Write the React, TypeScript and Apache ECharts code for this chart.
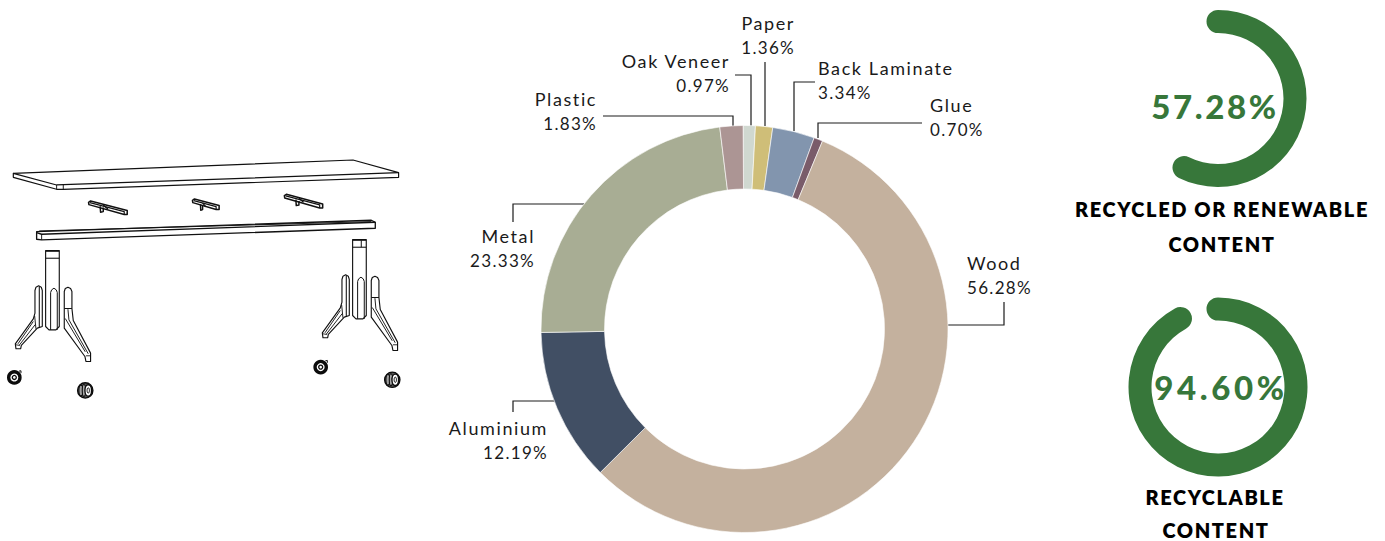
import React, { useEffect, useRef } from "react";
import * as echarts from "echarts";

const materials = ["Oak Veneer", "Paper", "Back Laminate", "Glue", "Wood", "Aluminium", "Metal", "Plastic"];
const shares = [0.97, 1.36, 3.34, 0.7, 56.28, 12.19, 23.33, 1.83];
const sliceColors = ["#d0d8d0", "#cfbe78", "#8295ae", "#7a5c6a", "#c4b19e", "#414f64", "#a8ad94", "#ac9594"];

const gaugeLabels = [57.28, 94.6];
// how far each ring is actually drawn in the picture, in percent of a full turn
const gaugeArcs = [57.28, 92];
const gaugeTitles = [["RECYCLED OR RENEWABLE", "CONTENT"], ["RECYCLABLE", "CONTENT"]];

// label anchor [x, y, align] and leader polyline, one entry per material
const labelSpots: any[] = [
  [730, 73, "right", [[735, 75], [751, 75], [751, 126]]],
  [795, 35, "right", [[765, 62], [765, 126]]],
  [818, 80, "left", [[815, 82], [794, 82], [794, 131]]],
  [930, 117, "left", [[922, 123], [818, 123], [818, 138]]],
  [967, 275, "left", [[1004, 302], [1004, 325], [948, 325]]],
  [548, 440, "right", [[513, 412], [513, 401], [558, 401]]],
  [535, 248, "right", [[513, 222], [513, 204], [584, 204]]],
  [597, 111, "right", [[603, 116], [733, 116], [733, 127]]],
];

const GREEN = "#37773a";
const LINE = "#1c1c1c";

// ---- illustration, drawn in a 3x coordinate space ----
const poly = (points: number[][], fill = "#fff", lineWidth = 3.6) => ({
  type: "polygon", shape: { points }, silent: true,
  style: { fill, stroke: "#111", lineWidth, lineJoin: "round" },
});
const line = (points: number[][], lineWidth = 3.2) => ({
  type: "polyline", shape: { points }, silent: true,
  style: { fill: "none", stroke: "#111", lineWidth, lineJoin: "round" },
});
const circ = (cx: number, cy: number, r: number, fill: string, lw = 4) => ({
  type: "circle", shape: { cx, cy, r }, silent: true,
  style: { fill, stroke: "#0c0c0c", lineWidth: lw },
});
const oval = (cx: number, cy: number, rx: number, ry: number, fill: string, lw = 3) => ({
  type: "ellipse", shape: { cx, cy, rx, ry }, silent: true,
  style: { fill, stroke: "#0c0c0c", lineWidth: lw },
});

const bracket = (x: number, y: number, w: number, h: number) => [
  poly([[x, y + 2], [x + 6, y - 2], [x + w, y + h - 3], [x + w, y + h + 9], [x + w - 9, y + h + 9], [x + 1, y + 9]], "#fff", 4.6),
  line([[x + 4, y + 3], [x + w - 9, y + h], [x + w - 9, y + h + 9]], 3.6),
  line([[x + w * 0.3, y + 14], [x + w * 0.31, y + 32], [x + w * 0.38, y + 30], [x + w * 0.38, y + 18]], 4.4),
  line([[x + w * 0.38, y + 10], [x + w * 0.5, y + 22]], 4),
];

const legParts = (cross: boolean) => [
  // column
  poly([[137, 302], [178, 302], [178, 530], [168, 540], [147, 540], [137, 530]], "#fff", 3.4),
  line([[137, 325], [178, 325]], 3.2),
  line([[137, 304], [178, 304]], 3.2),
  ...(cross ? [line([[163, 304], [163, 325]], 3)] : []),
  line([[152, 540], [152, 428], [155, 420], [162, 415], [169, 420], [172, 428], [172, 540]], 3),
  // left foot
  poly([[105, 422], [108, 412], [116, 408], [124, 412], [127, 422], [127, 530], [112, 535], [64, 587], [62, 597], [48, 597], [46, 582], [100, 507], [105, 490]], "#fff", 3.4),
  line([[118, 410], [118, 533]], 3.2),
  line([[104, 498], [108, 537]], 2.8),
  line([[100, 515], [54, 582]], 2.8),
  line([[106, 524], [58, 586]], 2.8),
  line([[48, 585], [60, 587]], 2.6),
  // right foot
  poly([[193, 425], [196, 416], [204, 412], [212, 416], [216, 425], [216, 476], [220, 512], [272, 610], [272, 635], [258, 635], [255, 620], [193, 535]], "#fff", 3.4),
  line([[193, 476], [216, 476]], 3),
  line([[204, 478], [207, 510], [265, 612]], 2.8),
  line([[196, 506], [256, 606]], 2.8),
  line([[258, 618], [272, 618]], 2.6),
];

const casterFlat = (x: number, y: number) => [
  circ(x, y, 17, "#fff", 10),
  circ(x, y, 6, "#fff", 4),
  line([[x + 14, y - 19], [x + 20, y - 20], [x + 20, y - 13]], 3),
];
const casterSide = (x: number, y: number) => [
  oval(x, y, 23, 23, "#555", 4),
  oval(x - 13, y, 6, 16, "#a0a0a0", 3.2),
  oval(x - 4, y, 5, 18, "#a8a8a8", 3.2),
  oval(x + 9, y, 10, 17, "#fff", 4.2),
  oval(x + 9, y, 3.5, 8, "#fff", 3),
];

const illustration = {
  type: "group", x: 0, y: 150, scaleX: 1 / 3, scaleY: 1 / 3, silent: true,
  children: [
    poly([[40, 70], [1060, 30], [1197, 68], [1197, 82], [190, 118], [170, 118], [40, 82]], "#fff", 3.6),
    line([[40, 70], [170, 105], [1197, 68]], 3.6),
    line([[170, 105], [170, 118]], 2.8),
    line([[190, 105], [190, 118]], 2.8),
    ...bracket(266, 155, 116, 30),
    ...bracket(578, 149, 80, 21),
    ...bracket(854, 135, 115, 30),
    poly([[110, 245], [1115, 211], [1127, 217], [1127, 235], [125, 270], [110, 268]], "#fff", 4),
    line([[110, 248], [125, 253], [1127, 217]], 4),
    line([[118, 243], [1115, 215]], 2.8),
    line([[125, 253], [125, 270]], 2.8),
    ...legParts(false),
    { type: "group", x: 921, y: -33, silent: true, children: legParts(true) },
    ...casterFlat(43, 683),
    ...casterSide(256, 722),
    ...casterFlat(963, 652),
    ...casterSide(1178, 690),
  ],
};

const titleText = (text: string, x: number, y: number) => ({
  type: "text", x, y, silent: true,
  style: { text, fill: "#000000", font: "800 20px Lato", align: "center", verticalAlign: "middle" },
});

const gaugeSeries = (arc: number, label: number, cy: number, radius: number, textDx: number, textDy: number, fill: string) => ({
  type: "gauge",
  center: [1218, cy],
  radius,
  startAngle: 90,
  endAngle: -270,
  min: 0,
  max: 100,
  pointer: { show: false },
  anchor: { show: false },
  axisLine: { show: false },
  axisTick: { show: false },
  splitLine: { show: false },
  axisLabel: { show: false },
  title: { show: false },
  progress: { show: true, width: 23, roundCap: true, itemStyle: { color: GREEN } },
  detail: {
    show: true,
    valueAnimation: false,
    offsetCenter: [textDx, textDy],
    formatter: () => `${label.toFixed(2)}%`,
    color: fill,
    fontFamily: "Lato",
    fontWeight: 900,
    fontSize: 33,
  },
  data: [{ value: arc }],
});

export default function App() {
  const ref = useRef<HTMLDivElement>(null);
  useEffect(() => {
    const chart = echarts.init(ref.current!, undefined, { renderer: "svg" });
    chart.setOption({
      animation: false,
      backgroundColor: "#ffffff",
      series: [
        {
          type: "pie",
          center: [744.5, 329],
          radius: [140, 203.5],
          startAngle: 90.4,
          clockwise: true,
          avoidLabelOverlap: false,
          data: materials.map((name, i) => ({ name, value: shares[i], itemStyle: { color: sliceColors[i] } })),
          itemStyle: { borderColor: "#ffffff", borderWidth: 0.6 },
          emphasis: { disabled: true },
          label: {
            show: true,
            position: "outside",
            formatter: (p: any) => `{n|${p.name}}\n{v|${p.value.toFixed(2)}%}`,
            fontFamily: "Lato",
            rich: {
              n: { fontFamily: "Lato", fontSize: 18, lineHeight: 24, color: "#1a1a1a" },
              v: { fontFamily: "Lato", fontSize: 17, lineHeight: 24, color: "#1a1a1b" },
            },
          },
          labelLine: { show: true, lineStyle: { color: LINE, width: 1.2 } },
          labelLayout: (p: any) => {
            const [x, y, align, points] = labelSpots[p.dataIndex];
            return { x, y, align, verticalAlign: "middle", labelLinePoints: points };
          },
        },
        gaugeSeries(gaugeArcs[0], gaugeLabels[0], 98.5, 88.5, -3, 7, GREEN),
        gaugeSeries(gaugeArcs[1], gaugeLabels[1], 387, 89.5, 3, 0, "#37773b"),
      ],
      graphic: [
        illustration,
        titleText(gaugeTitles[0][0], 1222, 209),
        titleText(gaugeTitles[0][1], 1222, 244),
        titleText(gaugeTitles[1][0], 1215, 497),
        titleText(gaugeTitles[1][1], 1216, 530),
      ],
    });
    return () => chart.dispose();
  }, []);
  return (
    <>
      <style>{`
        html, body { margin: 0; overflow: hidden; }
        #chart text { letter-spacing: 1.6px; }
        #chart text[fill="#1a1a1b"] { letter-spacing: 1.3px; }
        #chart text[fill="${GREEN}"] { letter-spacing: 2.6px; }
        #chart text[fill="#37773b"] { letter-spacing: 3.6px; }
        #chart text[fill="#000000"] { letter-spacing: 1.6px; }
      `}</style>
      <div id="chart" ref={ref} style={{ position: "absolute", left: 0, top: 0, width: 1385, height: 541 }} />
    </>
  );
}
